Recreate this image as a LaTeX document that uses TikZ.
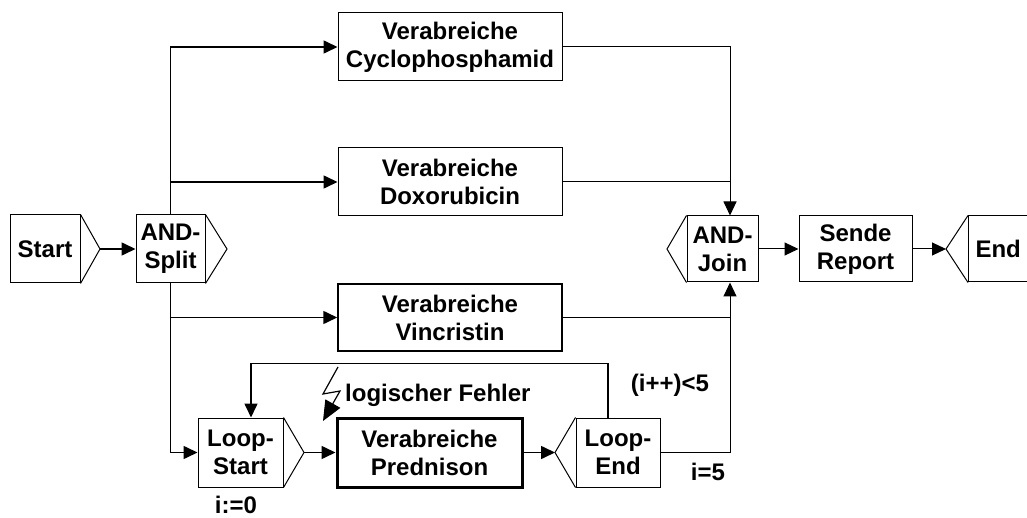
\documentclass[tikz,border=0pt]{standalone}
\usepackage{fontspec}
\setmainfont{Liberation Sans}
\usetikzlibrary{arrows.meta,calc}
\begin{document}
\begin{tikzpicture}[x=1pt,y=-1pt,
  every node/.style={font=\fontsize{24}{28}\selectfont\bfseries},
  box/.style={draw, line width=1pt, fill=white, align=center, inner sep=0pt, minimum height=68pt},
  flow/.style={line width=1.6pt, -{Triangle[length=14pt,width=13pt]}},
  thinflow/.style={line width=1pt, -{Triangle[length=14pt,width=13pt]}},
  thinline/.style={line width=1pt},
  lbl/.style={inner sep=0pt}
]
\useasboundingbox (0,0) rectangle (1027,518);
\clip (0,0) rectangle (1027,518);

% events and connectors with their flags
\node[box, minimum width=70pt] (start) at (45,249) {Start};
\draw[thinline] (start.north east) -- (100,249) coordinate (starttip) -- (start.south east);

\node[box, minimum width=69pt] (split) at (170.5,249) {AND-\\Split};
\draw[thinline] (split.north east) -- (227,249) -- (split.south east);

\node[box, minimum width=71pt, minimum height=66pt] (join) at (722.5,249) {AND-\\Join};
\draw[thinline] (join.north west) -- (667,249) -- (join.south west);

\node[box, minimum width=113pt, minimum height=66pt] (report) at (855.5,249) {Sende\\Report};

\node[box, anchor=west, minimum height=66pt, text width=86pt, inner xsep=7pt, align=left] (end) at (968,249) {End};
\draw[thinline] (end.north west) -- (946,249) coordinate (endtip) -- (end.south west);

% activities
\node[box, minimum width=224pt] (cyclo) at (450,47) {Verabreiche\\Cyclophosphamid};
\node[box, minimum width=224pt] (doxo) at (450,182) {Verabreiche\\Doxorubicin};
\node[box, minimum width=224pt, minimum height=67pt, line width=1.5pt] (vinc) at (450,317.5) {Verabreiche\\Vincristin};
\node[box, minimum width=185pt, minimum height=69pt, line width=3pt] (pred) at (429.5,452.5) {Verabreiche\\Prednison};

% loop
\node[box, minimum width=85pt, minimum height=69pt] (lstart) at (240.5,452.5) {Loop-\\Start};
\draw[thinline] (lstart.north east) -- (304,452.5) coordinate (lstarttip) -- (lstart.south east);

\node[box, minimum width=84pt, minimum height=69pt] (lend) at (618,452.5) {Loop-\\End};
\draw[thinline] (lend.north west) -- (555,452.5) coordinate (lendtip) -- (lend.south west);

% split branches
\draw[flow] (split.north) |- (cyclo.west);
\draw[flow] (split.north |- doxo.west) -- (doxo.west);
\draw[flow] (split.south |- vinc.west) -- (vinc.west);
\draw[flow] (split.south) |- (lstart.west);

% main sequence
\draw[flow] (starttip) -- (split.west);
\draw[flow] (lstarttip) -- (pred.west);
\draw[flow] (pred.east) -- (lendtip);
\draw[thinflow] (join.east) -- (report.west);
\draw[thinflow] (report.east) -- (endtip);

% join branches
\coordinate (jtop) at ($(join.north)+(7.5,0)$);
\coordinate (jbot) at ($(join.south)+(7.5,0)$);
\draw[thinflow] (cyclo.east) -| (jtop);
\draw[thinline] (doxo.east) -- (doxo.east -| jtop);
\draw[thinline] (vinc.east) -- (vinc.east -| jbot);
\draw[thinflow] (lend.east) -| (jbot);

% loop back
\draw[flow] ($(lend.north)+(-10,0)$) -- ++(0,-54) -| ($(lstart.north)+(10.5,0)$);

% error flash
\draw[line width=1.2pt, line join=miter, -{Triangle[length=20pt,width=17pt]}] (338,367) -- (323,394) -- (340,391) -- (323,421);

% labels
\node[lbl, anchor=west] (err) at (345,395) {logischer Fehler};
\node[lbl] (init) at (236,505) {i:=0};
\node[lbl] (cond) at (670,385) {(i++)<5};
\node[lbl] (exit) at (708,472) {i=5};
\end{tikzpicture}
\end{document}
